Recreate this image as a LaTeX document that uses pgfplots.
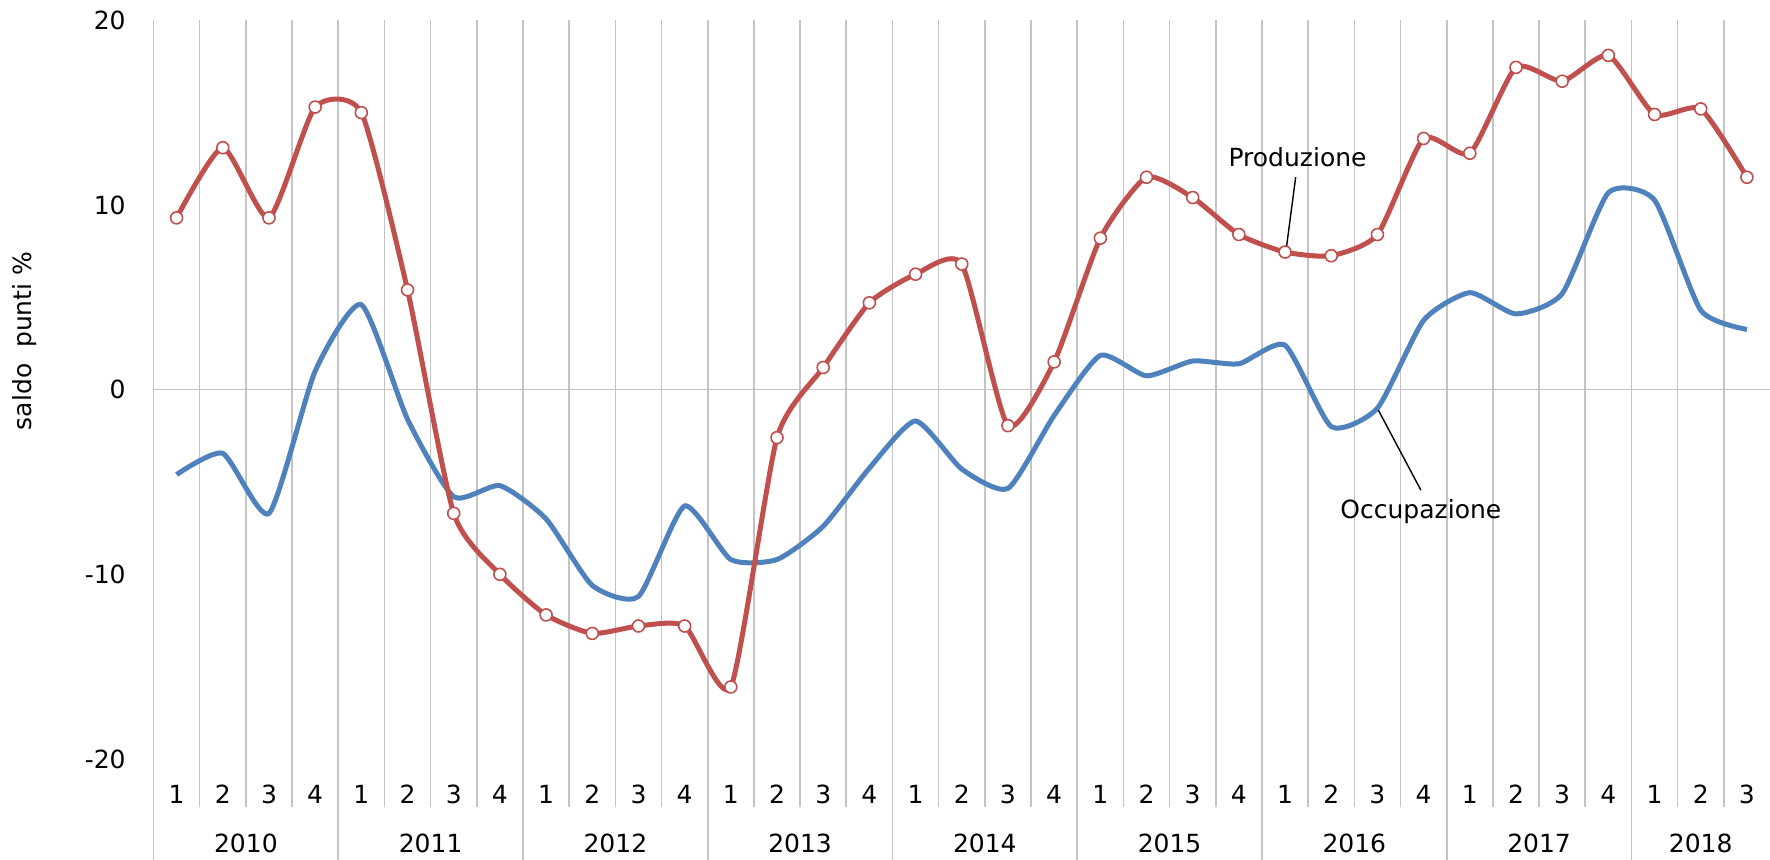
\documentclass[border=0pt]{standalone}
\usepackage{pgfplots}
\pgfplotsset{compat=1.18}
\usepackage{fontspec}
\setmainfont{DejaVu Sans}
\definecolor{prodred}{HTML}{C0504D}
\definecolor{occblue}{HTML}{4F81BD}
\definecolor{gridgray}{HTML}{C4C4C4}
\begin{document}
\begin{tikzpicture}[font=\fontsize{12.5}{15}\selectfont]
\path[use as bounding box] (0,0) rectangle (885pt,430pt);
\begin{axis}[
  at={(76.75pt,26.5pt)}, anchor=south west,
  scale only axis, width=808.25pt, height=393.35pt,
  xmin=-0.5, xmax=34.5, ymin=-22.6, ymax=20,
  axis line style={draw=none},
  major tick length=0pt, minor tick length=0pt,
  xtick={0,...,34},
  xticklabels={1,2,3,4,1,2,3,4,1,2,3,4,1,2,3,4,1,2,3,4,1,2,3,4,1,2,3,4,1,2,3,4,1,2,3},
  xticklabel style={anchor=center, inner sep=0pt, yshift=6.5pt},
  minor xtick={-0.5,0.5,...,33.5},
  xminorgrids=true,
  minor grid style={draw=gridgray, line width=0.8pt},
  ytick={-20,-10,10,20},
  yticklabels={-20,-10,10,20},
  extra y ticks={0},
  extra y tick labels={0},
  extra y tick style={grid=major},
  major grid style={draw=gridgray, line width=0.8pt},
  yticklabel style={anchor=east, inner sep=0pt, xshift=-13.75pt},
  tick label style={font=\fontsize{12.5}{15}\selectfont},
  /pgf/number format/assume math mode=true,
  clip=false,
]
% year separators below the axis
\foreach \b in {-0.5,3.5,7.5,11.5,15.5,19.5,23.5,27.5,31.5} {
  \edef\temp{\noexpand\draw[gridgray, line width=0.8pt] (axis cs:\b,-22.6) -- (axis cs:\b,-25.5);}
  \temp
}
% year labels
\node at (axis cs:1.5,-24.57) {2010};
\node at (axis cs:5.5,-24.57) {2011};
\node at (axis cs:9.5,-24.57) {2012};
\node at (axis cs:13.5,-24.57) {2013};
\node at (axis cs:17.5,-24.57) {2014};
\node at (axis cs:21.5,-24.57) {2015};
\node at (axis cs:25.5,-24.57) {2016};
\node at (axis cs:29.5,-24.57) {2017};
\node at (axis cs:33,-24.57) {2018};

% Occupazione
\addplot[occblue, line width=2.5pt, smooth, tension=0.36, no marks] coordinates {
(0,-4.6) (1,-3.45) (2,-6.7) (3,1.0) (4,4.6) (5,-1.6) (6,-5.8) (7,-5.2)
(8,-7.0) (9,-10.6) (10,-11.2) (11,-6.3) (12,-9.2) (13,-9.2) (14,-7.4) (15,-4.25)
(16,-1.7) (17,-4.3) (18,-5.35) (19,-1.4) (20,1.85) (21,0.75) (22,1.55) (23,1.4)
(24,2.4) (25,-2.0) (26,-1.0) (27,3.75) (28,5.25) (29,4.1) (30,5.2) (31,10.66)
(32,10.26) (33,4.3) (34,3.26)
};
% Produzione
\addplot[prodred, line width=2.5pt, smooth, tension=0.36,
  mark=*, mark size=3pt, mark options={fill=white, draw=prodred, line width=0.8pt, solid}] coordinates {
(0,9.3) (1,13.1) (2,9.3) (3,15.3) (4,15.0) (5,5.4) (6,-6.7) (7,-10.0)
(8,-12.2) (9,-13.2) (10,-12.8) (11,-12.8) (12,-16.1) (13,-2.6) (14,1.2) (15,4.7)
(16,6.25) (17,6.8) (18,-1.95) (19,1.5) (20,8.2) (21,11.5) (22,10.4) (23,8.4)
(24,7.45) (25,7.25) (26,8.4) (27,13.6) (28,12.8) (29,17.45) (30,16.7) (31,18.1)
(32,14.9) (33,15.2) (34,11.5)
};

% annotations
\draw[black, line width=0.7pt] (axis cs:24.23,11.51) -- (axis cs:24.03,7.7);
\node at (axis cs:24.27,12.59) {Produzione};
\draw[black, line width=0.7pt] (axis cs:26.94,-5.44) -- (axis cs:26.02,-1.11);
\node at (axis cs:26.94,-6.63) {Occupazione};
\end{axis}
\node[rotate=90] at (12.5pt,259.5pt) {saldo\ \ punti\ \%};
\end{tikzpicture}
\end{document}
